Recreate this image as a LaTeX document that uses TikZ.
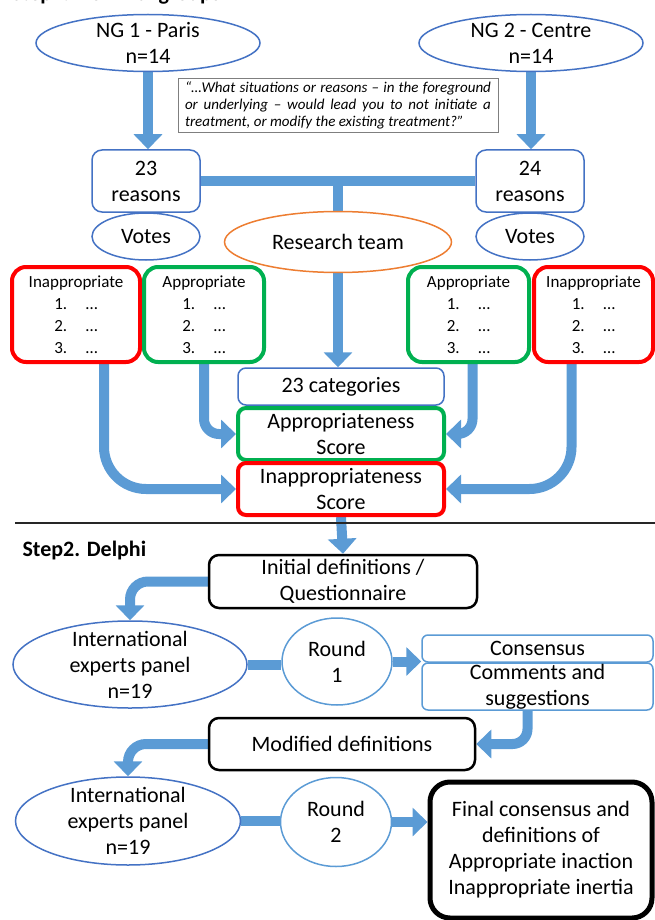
\documentclass[tikz,border=0pt]{standalone}
\usepackage{fontspec}
\setmainfont{Carlito}
\usetikzlibrary{arrows.meta,shapes.geometric,backgrounds}
\definecolor{nodeblue}{HTML}{4472C4}
\definecolor{lineblue}{HTML}{5B9BD5}
\definecolor{teamorange}{HTML}{ED7D31}
\definecolor{badred}{HTML}{FF0000}
\definecolor{goodgreen}{HTML}{00B050}
\definecolor{quotegray}{HTML}{7F7F7F}
\begin{document}
\begin{tikzpicture}[x=1pt,y=-1pt,
  lbl/.style={font=\fontsize{22}{26}\selectfont, align=center},
  oval/.style={lbl, ellipse, draw=nodeblue, line width=1.5pt, fill=white, inner xsep=0pt, inner ysep=-8pt},
  rbox/.style={lbl, draw=nodeblue, line width=1.5pt, rounded corners=10pt, fill=white, inner sep=0pt},
  listbox/.style={font=\fontsize{17}{22}\selectfont, align=center, line width=4pt, rounded corners=14pt, fill=white, inner sep=0pt, minimum height=95pt},
  score/.style={lbl, line width=4pt, rounded corners=8pt, fill=white, inner sep=0pt, minimum width=206pt, minimum height=52pt},
  blackbox/.style={lbl, draw, line width=2.5pt, rounded corners=10pt, fill=white, inner sep=0pt},
  head/.style={font=\fontsize{22}{26}\selectfont\bfseries},
  arr/.style={lineblue, line width=10pt, -{Triangle[width=28pt,length=15pt]}},
  bar/.style={lineblue, line width=10pt}]
\useasboundingbox (0,0) rectangle (655,920);
\node[head, anchor=base west] (step1) at (8,1) {Step1. Nominal groups};
\node[oval, minimum width=224pt, minimum height=57pt] (ng1) at (148,43) {NG 1 - Paris\\n=14};
\node[oval, minimum width=224pt, minimum height=57pt] (ng2) at (531,43) {NG 2 - Centre\\n=14};
\node[draw=quotegray, line width=1pt, fill=white, text width=306pt, align=justify, inner xsep=7pt, inner ysep=3pt, font=\fontsize{15}{17}\selectfont\itshape] (quote) at (338,105.5) {“…What situations or reasons – in the foreground\linebreak or underlying – would lead you to not initiate a\linebreak treatment, or modify the existing treatment?”};
\node[rbox, minimum width=108pt, minimum height=62pt] (r23) at (146,181) {23\\reasons};
\node[rbox, minimum width=108pt, minimum height=62pt] (r24) at (530,181) {24\\reasons};
\node[oval, minimum width=108pt, minimum height=47pt] (v1) at (146,236.5) {Votes};
\node[oval, minimum width=108pt, minimum height=47pt] (v2) at (530,236.5) {Votes};
\node[oval, draw=teamorange, minimum width=227pt, minimum height=61pt] (team) at (338,242) {Research team};
\node[listbox, draw=badred, minimum width=128pt] (inL) at (76,314.5) {Inappropriate\\1.\hspace{1.1em}…\\2.\hspace{1.1em}…\\3.\hspace{1.1em}…};
\node[listbox, draw=goodgreen, minimum width=120pt] (apL) at (204,314.5) {Appropriate\\1.\hspace{1.1em}…\\2.\hspace{1.1em}…\\3.\hspace{1.1em}…};
\node[listbox, draw=goodgreen, minimum width=121pt] (apR) at (468.5,314.5) {Appropriate\\1.\hspace{1.1em}…\\2.\hspace{1.1em}…\\3.\hspace{1.1em}…};
\node[listbox, draw=badred, minimum width=119pt] (inR) at (593.5,314.5) {Inappropriate\\1.\hspace{1.1em}…\\2.\hspace{1.1em}…\\3.\hspace{1.1em}…};
\node[rbox, rounded corners=8pt, minimum width=206pt, minimum height=37pt] (cat) at (341,386.5) {23 categories};
\node[score, draw=goodgreen] (appS) at (341,434) {Appropriateness\\Score};
\node[score, draw=badred] (inS) at (341,489) {Inappropriateness\\Score};
\draw[line width=2pt, black!85] (15,523) -- (655,523);
\node[head, anchor=west] (step2) at (19,551) {Step2. Delphi};
\node[blackbox, minimum width=268pt, minimum height=53pt] (init) at (343,581.5) {Initial definitions /\\Questionnaire};
\node[oval, minimum width=234pt, minimum height=87pt] (intl1) at (130,664.5) {International\\experts panel\\n=19};
\node[oval, draw=lineblue, minimum width=110pt, minimum height=87pt] (r1) at (337,661.5) {Round\\1};
\node[rbox, draw=lineblue, rounded corners=6pt, minimum width=231pt, minimum height=27pt] (cons) at (537.5,648.5) {Consensus};
\node[rbox, draw=lineblue, rounded corners=6pt, minimum width=231pt, minimum height=47pt] (comm) at (537.5,686.5) {Comments and\\suggestions};
\node[blackbox, minimum width=266pt, minimum height=52pt] (mod) at (342,744) {Modified definitions};
\node[oval, minimum width=225pt, minimum height=88pt] (intl2) at (128,821) {International\\experts panel\\n=19};
\node[oval, draw=lineblue, minimum width=111pt, minimum height=89pt] (r2) at (336,822) {Round\\2};
\node[blackbox, line width=5pt, rounded corners=20pt, minimum width=222pt, minimum height=136pt] (fin) at (541,850) {Final consensus and\\definitions of\\Appropriate inaction\\Inappropriate inertia};
\begin{scope}[on background layer]
\draw[arr] (ng1.south) -- (ng1.south |- r23.north);
\draw[arr] (ng2.south) -- (ng2.south |- r24.north);
\draw[bar] (r23.east) -- (r24.west);
\coordinate (join) at (338,181);
\draw[arr] (join) -- (join |- cat.north);
\draw[arr, rounded corners=15pt] (apL.south) |- (appS.west);
\draw[arr, rounded corners=15pt] ([xshift=4pt]apR.south) |- (appS.east);
\draw[arr, rounded corners=42pt] ([xshift=28pt]inL.south) |- (inS.west);
\draw[arr, rounded corners=42pt] ([xshift=-22pt]inR.south) |- (inS.east);
\draw[arr] (inS.south) -- (init.north);
\draw[arr, rounded corners=18pt] (init.west) -| (intl1.north);
\draw[bar] (intl1.east) -- (intl1.east -| r1.west);
\draw[arr] (r1.east) -- (r1.east -| cons.west);
\draw[arr, rounded corners=15pt] ([xshift=-10pt]comm.south) |- (mod.east);
\draw[arr, rounded corners=18pt] (mod.west) -| (intl2.north);
\draw[bar] (intl2.east) -- (intl2.east -| r2.west);
\draw[arr] (r2.east) -- (r2.east -| fin.west);
\end{scope}
\end{tikzpicture}
\end{document}
